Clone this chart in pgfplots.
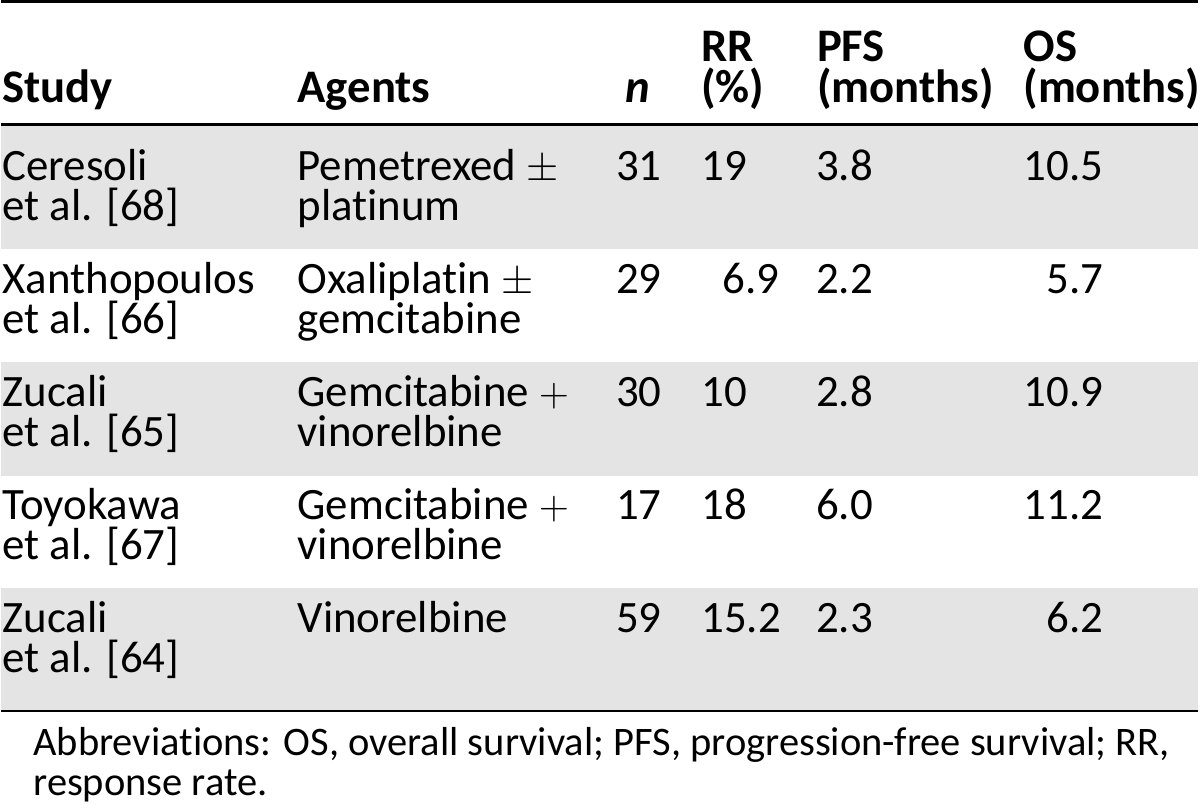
\documentclass[border=0pt]{standalone}
\usepackage{fontspec}
\setmainfont{Carlito}[Ligatures=NoCommon]
\usepackage{pgfplots}
\pgfplotsset{compat=1.18}
\definecolor{band}{RGB}{228,228,228}
\newcommand{\body}{\fontsize{22.5}{20}\selectfont}
\newcommand{\head}{\fontsize{23.4}{20}\selectfont}
\newcommand{\foot}{\fontsize{20.3}{20}\selectfont}
\tikzset{L/.style={anchor=base west, inner sep=0pt, outer sep=0pt, font=\body},
         R/.style={anchor=base east, inner sep=0pt, outer sep=0pt, font=\body},
         H/.style={anchor=base west, inner sep=0pt, outer sep=0pt, font=\head\bfseries},
         F/.style={anchor=base west, inner sep=0pt, outer sep=0pt, font=\foot}}
\begin{document}
\begin{tikzpicture}
\begin{axis}[x=0.5pt, y=0.5pt, y dir=reverse, xmin=0, xmax=1200, ymin=0, ymax=810,
  hide axis, clip=false, scale only axis]
% background and bands
\fill[white] (axis cs:0,0) rectangle (axis cs:1200,810);
\fill[band] (axis cs:0,126) rectangle (axis cs:1200,250);
\fill[band] (axis cs:0,363) rectangle (axis cs:1200,477);
\fill[band] (axis cs:0,590) rectangle (axis cs:1200,713);
% rules
\draw[line width=1.5pt] (axis cs:0,1.5) -- (axis cs:1200,1.5);
\draw[line width=1.2pt] (axis cs:0,125) -- (axis cs:1200,125);
\draw[line width=1.2pt] (axis cs:0,713) -- (axis cs:1200,713);
% header
\node[H] at (axis cs:1,103) {Study};
\node[H] at (axis cs:297,103) {Agents};
\node[H] at (axis cs:626,103) {\itshape n};
\node[H] at (axis cs:702,62) {RR};
\node[H] at (axis cs:702,103) {(\%)};
\node[H] at (axis cs:818,62) {PFS};
\node[H] at (axis cs:818,103) {(months)};
\node[H] at (axis cs:1025,62) {OS};
\node[H] at (axis cs:1025,103) {(months)};
% rows: study / agents
\node[L] at (axis cs:1,181) {Ceresoli};
\node[L] at (axis cs:1,221) {et al. [68]};
\node[L] at (axis cs:297,181) {Pemetrexed $\pm$};
\node[L] at (axis cs:297,221) {platinum};
\node[L] at (axis cs:1,294) {Xanthopoulos};
\node[L] at (axis cs:1,334) {et al. [66]};
\node[L] at (axis cs:297,294) {Oxaliplatin $\pm$};
\node[L] at (axis cs:297,334) {gemcitabine};
\node[L] at (axis cs:1,408) {Zucali};
\node[L] at (axis cs:1,448) {et al. [65]};
\node[L] at (axis cs:297,408) {Gemcitabine $+$};
\node[L] at (axis cs:297,448) {vinorelbine};
\node[L] at (axis cs:1,521) {Toyokawa};
\node[L] at (axis cs:1,561) {et al. [67]};
\node[L] at (axis cs:297,521) {Gemcitabine $+$};
\node[L] at (axis cs:297,561) {vinorelbine};
\node[L] at (axis cs:1,634) {Zucali};
\node[L] at (axis cs:1,674) {et al. [64]};
\node[L] at (axis cs:297,634) {Vinorelbine};
% numbers
\node[R] at (axis cs:662,181) {31};
\node[R] at (axis cs:662,294) {29};
\node[R] at (axis cs:662,408) {30};
\node[R] at (axis cs:662,521) {17};
\node[R] at (axis cs:662,634) {59};
\node[L] at (axis cs:702,181) {19};
\node[L] at (axis cs:723,294) {6.9};
\node[L] at (axis cs:702,408) {10};
\node[L] at (axis cs:702,521) {18};
\node[L] at (axis cs:702,634) {15.2};
\node[L] at (axis cs:817,181) {3.8};
\node[L] at (axis cs:817,294) {2.2};
\node[L] at (axis cs:817,408) {2.8};
\node[L] at (axis cs:817,521) {6.0};
\node[L] at (axis cs:817,634) {2.3};
\node[R] at (axis cs:1105,181) {10.5};
\node[R] at (axis cs:1105,294) {5.7};
\node[R] at (axis cs:1105,408) {10.9};
\node[R] at (axis cs:1105,521) {11.2};
\node[R] at (axis cs:1105,634) {6.2};
% footnote
\node[F] at (axis cs:32,758) {Abbreviations: OS, overall survival; PFS, progression-free survival; RR,};
\node[F] at (axis cs:32,798) {response rate.};
\end{axis}
\end{tikzpicture}
\end{document}
